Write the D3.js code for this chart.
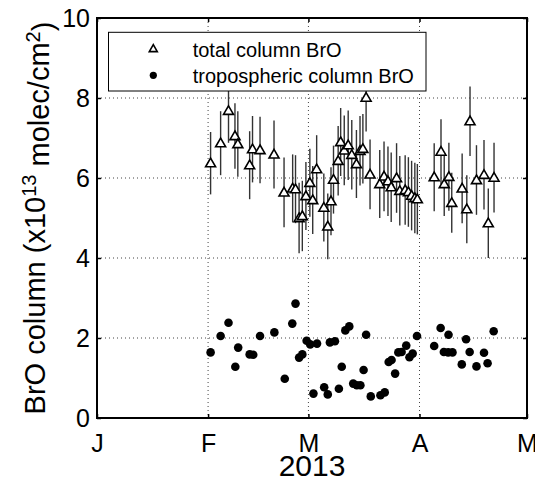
<!DOCTYPE html>
<html>
<head>
<meta charset="utf-8">
<script src="https://cdn.jsdelivr.net/npm/d3@7"></script>
<style>
  body { margin: 0; background: #fff; }
  text { font-family: "Liberation Sans", Arial, Helvetica, sans-serif; fill: #000; }
</style>
</head>
<body>
<div id="chart"></div>
<script>
// Data: days after 1 Jan 2013 (UTC)
var totalDays = [31.7, 34.5, 36.7, 38.5, 39.3, 42.6, 43.4, 45.5, 49.4, 52.2,
  54.6, 55.4, 56.4, 57.3, 58.3, 59.4, 60.2, 61.3, 63.3, 64.4,
  65.3, 66.0, 67.3, 68.0, 69.0, 70.1, 71.1, 72.4, 73.4, 74.2,
  75.1, 76.2, 78.9, 80.1, 81.2, 82.1, 83.6, 84.5, 86.0, 86.9,
  87.8, 88.7, 89.4, 94.1, 96.0, 96.9, 98.2, 99.0, 101.9, 103.2,
  104.1, 105.9, 108.0, 109.2, 110.8];
var totalValues = [6.37, 6.87, 7.68, 7.05, 6.85, 6.32, 6.72, 6.70, 6.59, 5.64,
  5.74, 5.72, 5.00, 5.05, 5.55, 5.88, 5.45, 6.22, 5.26, 4.79,
  5.42, 5.96, 6.43, 6.90, 6.69, 6.82, 6.58, 6.35, 6.68, 6.73,
  8.01, 6.09, 5.85, 6.04, 5.92, 5.77, 6.00, 5.68, 5.70, 5.65,
  5.56, 5.50, 5.47, 6.02, 6.66, 5.85, 6.03, 5.38, 5.74, 5.22,
  7.42, 5.95, 6.08, 4.87, 6.01];
var totalErrors = [0.78, 0.80, 0.80, 0.82, 0.82, 0.85, 0.83, 0.83, 0.85, 0.87,
  0.85, 0.85, 0.88, 0.88, 0.85, 0.85, 0.85, 0.85, 0.85, 0.82,
  0.85, 0.85, 0.87, 0.85, 0.87, 0.87, 0.87, 0.85, 0.87, 0.87,
  0.85, 0.87, 0.85, 0.87, 0.87, 0.87, 0.87, 0.87, 0.87, 0.87,
  0.87, 0.88, 0.88, 0.85, 0.81, 0.80, 0.85, 0.75, 0.87, 0.85,
  0.87, 0.87, 0.87, 0.87, 0.87];

var tropDays = [31.7, 34.5, 36.7, 38.6, 39.4, 42.6, 43.6, 45.5, 49.5, 52.4,
  54.5, 55.4, 56.4, 57.3, 58.5, 59.5, 60.4, 61.4, 63.4, 64.4,
  65.0, 66.4, 67.5, 68.3, 69.3, 70.4, 71.5, 72.5, 73.5, 74.4,
  75.1, 76.4, 79.1, 80.3, 81.4, 82.2, 83.2, 84.1, 85.0, 86.3,
  87.2, 88.1, 89.3, 94.1, 95.9, 96.8, 98.0, 98.1, 99.2, 101.8,
  103.0, 104.0, 105.9, 108.0, 109.0, 110.7];
var tropValues = [1.64, 2.05, 2.38, 1.28, 1.76, 1.59, 1.58, 2.05, 2.14, 0.98,
  2.36, 2.86, 1.51, 1.59, 1.93, 1.84, 0.61, 1.86, 0.77, 0.59,
  1.89, 1.92, 0.73, 1.28, 2.19, 2.29, 0.86, 0.82, 0.82, 1.20,
  2.08, 0.54, 0.57, 0.64, 1.40, 1.45, 1.11, 1.64, 1.65, 1.81,
  1.52, 1.61, 2.05, 1.80, 2.25, 1.65, 1.64, 2.08, 1.64, 1.34,
  1.97, 1.65, 1.29, 1.63, 1.37, 2.17];

var monthLabels = ["J", "F", "M", "A", "M"];
var yTicks = [0, 2, 4, 6, 8, 10];
var legendLabels = ["total column BrO", "tropospheric column BrO"];

// Setup chart
var svgWidth = 535;
var svgHeight = 483;
var margin = { top: 18, right: 8, bottom: 65, left: 97 };
var width = svgWidth - margin.left - margin.right;
var height = svgHeight - margin.top - margin.bottom;

var svg = d3.select("#chart")
  .append("svg")
  .attr("width", svgWidth)
  .attr("height", svgHeight);

var chartGroup = svg.append("g")
  .attr("transform", `translate(${margin.left}, ${margin.top})`);

var t0 = Date.UTC(2013, 0, 1);
function toDate(d) { return new Date(t0 + d * 864e5); }

var xScale = d3.scaleUtc()
  .domain([new Date(t0), new Date(Date.UTC(2013, 4, 1))])
  .range([0, width]);
var yScale = d3.scaleLinear()
  .domain([0, 10])
  .range([height, 0]);

var months = d3.utcMonth.range(new Date(t0), new Date(Date.UTC(2013, 4, 2)));

// dotted grid
var grid = chartGroup.append("g")
  .attr("stroke", "#444")
  .attr("stroke-width", 1)
  .attr("stroke-dasharray", "1,3");
grid.selectAll(".gx")
  .data(months.slice(1, -1))
  .enter().append("line")
  .attr("x1", d => xScale(d)).attr("x2", d => xScale(d))
  .attr("y1", 0).attr("y2", height);
grid.selectAll(".gy")
  .data(yTicks.slice(1, -1))
  .enter().append("line")
  .attr("x1", 0).attr("x2", width)
  .attr("y1", d => yScale(d)).attr("y2", d => yScale(d));

// error bars
chartGroup.append("g")
  .selectAll("line")
  .data(totalDays)
  .enter().append("line")
  .attr("x1", d => xScale(toDate(d)))
  .attr("x2", d => xScale(toDate(d)))
  .attr("y1", (d, i) => yScale(totalValues[i] + totalErrors[i]))
  .attr("y2", (d, i) => yScale(totalValues[i] - totalErrors[i]))
  .attr("stroke", "#333")
  .attr("stroke-width", 1.4);

var triPath = "M0,-5L5,3.6L-5,3.6Z";

chartGroup.append("g")
  .selectAll("path")
  .data(totalDays)
  .enter().append("path")
  .attr("d", triPath)
  .attr("transform", (d, i) => `translate(${xScale(toDate(d))},${yScale(totalValues[i])})`)
  .attr("fill", "#fff")
  .attr("stroke", "#000")
  .attr("stroke-width", 1.6);

chartGroup.append("g")
  .selectAll("circle")
  .data(tropDays)
  .enter().append("circle")
  .attr("cx", d => xScale(toDate(d)))
  .attr("cy", (d, i) => yScale(tropValues[i]))
  .attr("r", 4.3)
  .attr("fill", "#000");

// axes, ticks pointing inward
var bottomAxis = d3.axisBottom(xScale)
  .tickValues(months)
  .tickFormat((d, i) => monthLabels[i])
  .tickSizeInner(-4).tickSizeOuter(0).tickPadding(16);
var leftAxis = d3.axisLeft(yScale)
  .tickValues(yTicks)
  .tickSizeInner(-4).tickSizeOuter(0).tickPadding(7);

var xAxisG = chartGroup.append("g")
  .attr("transform", `translate(0, ${height})`)
  .call(bottomAxis);
var yAxisG = chartGroup.append("g")
  .call(leftAxis);
chartGroup.append("g")
  .call(d3.axisTop(xScale).tickValues(months).tickFormat("").tickSizeInner(-4).tickSizeOuter(0));
chartGroup.append("g")
  .attr("transform", `translate(${width}, 0)`)
  .call(d3.axisRight(yScale).tickValues(yTicks).tickFormat("").tickSizeInner(-4).tickSizeOuter(0));

chartGroup.selectAll(".domain").remove();
chartGroup.selectAll(".tick line").attr("stroke", "#000").attr("stroke-width", 1.5);
xAxisG.selectAll("text").style("font-size", "25px");
yAxisG.selectAll("text").style("font-size", "25px");

// frame
chartGroup.append("rect")
  .attr("x", 0).attr("y", 0)
  .attr("width", width).attr("height", height)
  .attr("fill", "none")
  .attr("stroke", "#000")
  .attr("stroke-width", 2);

// axis labels
svg.append("text")
  .attr("x", margin.left + width / 2)
  .attr("y", 476)
  .attr("text-anchor", "middle")
  .style("font-size", "30px")
  .text("2013");

var yLabel = svg.append("text")
  .attr("transform", `translate(45, ${margin.top + height / 2}) rotate(-90)`)
  .attr("text-anchor", "middle")
  .style("font-size", "29px");
yLabel.append("tspan").text("BrO column (x10");
yLabel.append("tspan").attr("dy", "-0.45em").style("font-size", "20px").text("13");
yLabel.append("tspan").attr("dy", "0.45em").text(" molec/cm");
yLabel.append("tspan").attr("dy", "-0.45em").style("font-size", "20px").text("2");
yLabel.append("tspan").attr("dy", "0.45em").text(")");

// legend
var legend = chartGroup.append("g")
  .attr("transform", "translate(11.5, 14.3)");
legend.append("rect")
  .attr("width", 317.5).attr("height", 58.7)
  .attr("fill", "#fff")
  .attr("stroke", "#000")
  .attr("stroke-width", 1);
legend.append("path")
  .attr("d", "M0,-4L4,3L-4,3Z")
  .attr("transform", "translate(44.8, 16.3)")
  .attr("fill", "#fff").attr("stroke", "#000").attr("stroke-width", 1.6);
legend.append("circle")
  .attr("cx", 44.8).attr("cy", 43)
  .attr("r", 3.6).attr("fill", "#000");
legend.selectAll("text.lab")
  .data(legendLabels)
  .enter().append("text")
  .attr("x", 84.2)
  .attr("y", (d, i) => 24.4 + i * 26.6)
  .style("font-size", "20px")
  .text(d => d);
</script>
</body>
</html>
